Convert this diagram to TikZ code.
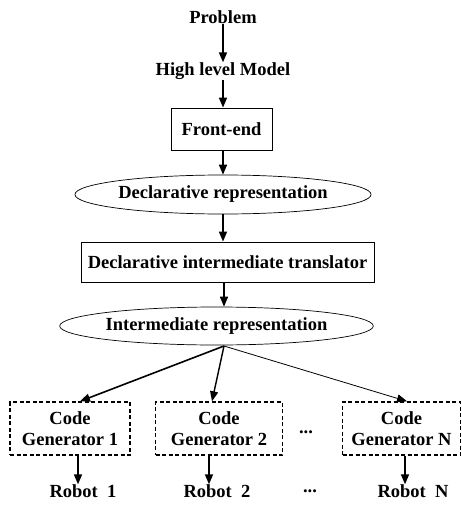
\documentclass[tikz,border=0pt]{standalone}
\usepackage{fontspec}
\setmainfont{Liberation Serif}
\usetikzlibrary{arrows.meta,shapes.geometric}
\begin{document}
\begin{tikzpicture}[x=1pt,y=-1pt,
  every node/.style={font=\fontsize{18.5}{20.5}\selectfont\bfseries, inner sep=0pt},
  lbl/.style={},
  solidbox/.style={draw, line width=0.9pt, rectangle},
  ell/.style={draw, line width=0.7pt, ellipse},
  dbox/.style={draw, line width=1.4pt, dash pattern=on 4pt off 2.5pt, rectangle, align=center},
  arr/.style={line width=1.6pt, -{Triangle[length=10pt,width=8pt]}},
  fan/.style={-{Triangle[length=10pt,width=8pt]}}
]
\useasboundingbox (0,0) rectangle (462,506);

\node[lbl] (prob) at (223,17) {Problem};
\node[lbl] (hlm) at (223,71) {High level Model};
\node[solidbox, minimum width=101pt, minimum height=42pt] (fe) at (221.5,129) {Front-end};
\node[ell, minimum width=252pt, minimum height=39pt] (dr) at (223,194.5) {Declarative representation};
\node[solidbox, minimum width=293pt, minimum height=40pt] (dit) at (227.5,262) {Declarative intermediate translator};
\node[ell, minimum width=253pt, minimum height=38pt] (ir) at (216.5,326) {Intermediate representation};
\coordinate (fo) at (224,346);

\node[dbox, minimum width=120pt, minimum height=53pt] (cg1) at (70,428.5) {Code\\Generator 1};
\node[dbox, minimum width=127pt, minimum height=53pt] (cg2) at (219,428.5) {Code\\Generator 2};
\node (dots1) at (306,432) {...};
\node[dbox, minimum width=118pt, minimum height=53pt] (cgn) at (401.5,428.5) {Code\\Generator N};

\node (r1) at (83,491) {Robot\ \ 1};
\node (r2) at (217,491) {Robot\ \ 2};
\node (dots2) at (310,491) {...};
\node (rn) at (413,491) {Robot\ \ N};

\draw[arr] (prob.south -| 223,0) -- (hlm.north -| 223,0);
\draw[arr] (hlm.south -| 223,0) -- (fe.north -| 223,0);
\draw[arr] (fe.south -| 223,0) -- (dr.north -| 223,0);
\draw[arr] (dr.south -| 223,0) -- (dit.north -| 223,0);
\draw[arr] (dit.south -| 224,0) -- (ir.north -| 224,0);

\draw[fan, line width=1.6pt] (fo) -- ([xshift=10pt]cg1.north);
\draw[fan, line width=1.4pt] (fo) -- ([xshift=-7pt]cg2.north);
\draw[fan, line width=0.8pt] (fo) -- ([xshift=5.5pt]cgn.north);

\draw[arr] ([xshift=8pt]cg1.south) -- ([xshift=-5pt]r1.north);
\draw[arr] ([xshift=-10pt]cg2.south) -- ([xshift=-8pt]r2.north);
\draw[arr] ([xshift=3.5pt]cgn.south) -- ([xshift=-8pt]rn.north);
\end{tikzpicture}
\end{document}
